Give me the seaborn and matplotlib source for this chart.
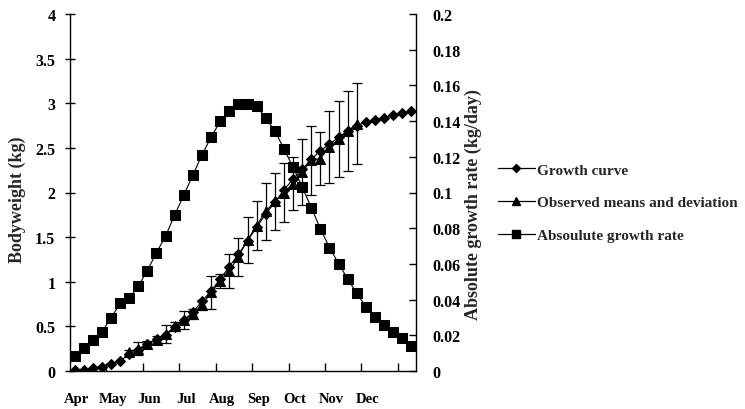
import numpy as np
import pandas as pd
import matplotlib
matplotlib.use("Agg")
import matplotlib.pyplot as plt
from matplotlib.lines import Line2D
from matplotlib.ticker import FixedLocator, FuncFormatter
import seaborn as sns

# ---------------- data ----------------
months = ["Apr", "May", "Jun", "Jul", "Aug", "Sep", "Oct", "Nov", "Dec"]
n_points = 38                      # sampling occasions along the category axis
sample_index = np.arange(n_points)

growth_curve = [0.01, 0.01, 0.03, 0.05, 0.08, 0.11, 0.19, 0.24, 0.30, 0.36,
                0.40, 0.49, 0.57, 0.66, 0.78, 0.90, 1.03, 1.17, 1.31, 1.46,
                1.61, 1.76, 1.89, 2.03, 2.15, 2.26, 2.37, 2.47, 2.54, 2.62,
                2.69, 2.75, 2.79, 2.81, 2.84, 2.87, 2.89, 2.91]

obs_index = np.arange(6, 32)
observed_means = [0.21, 0.25, 0.30, 0.35, 0.41, 0.50, 0.57, 0.64, 0.74, 0.88,
                  1.01, 1.12, 1.28, 1.47, 1.63, 1.79, 1.90, 2.00, 2.10, 2.23,
                  2.36, 2.38, 2.51, 2.60, 2.69, 2.77]
observed_sd = [0.03, 0.07, 0.04, 0.04, 0.10, 0.05, 0.10, 0.06, 0.06, 0.18,
               0.08, 0.19, 0.215, 0.26, 0.27, 0.32, 0.32, 0.33, 0.30, 0.375,
               0.39, 0.30, 0.40, 0.43, 0.445, 0.455]

growth_rate = [0.0086, 0.0127, 0.0174, 0.0220, 0.0295, 0.0380, 0.0407, 0.0476,
               0.0563, 0.0663, 0.0756, 0.0874, 0.0986, 0.1098, 0.1212, 0.1310,
               0.1399, 0.1458, 0.1496, 0.1496, 0.1483, 0.1417, 0.1346, 0.1244,
               0.1141, 0.1032, 0.0915, 0.0797, 0.0691, 0.0602, 0.0515, 0.0435,
               0.0360, 0.0301, 0.0259, 0.0217, 0.0183, 0.0142]

left_ticks = [0, 0.5, 1, 1.5, 2, 2.5, 3, 3.5, 4]
right_ticks = [0, 0.02, 0.04, 0.06, 0.08, 0.1, 0.12, 0.14, 0.16, 0.18, 0.2]

labels = ["Growth curve", "Observed means and deviation", "Absoulute growth rate"]

# ---------------- style ----------------
sns.set_theme(style="white")
plt.rcParams["font.family"] = ["Liberation Serif", "DejaVu Serif"]
plt.rcParams["font.weight"] = "bold"
plt.rcParams["axes.labelweight"] = "bold"

W, H = 745, 410
fig = plt.figure(figsize=(W / 100, H / 100), dpi=100)
ax = fig.add_axes([70 / W, 38 / H, 346 / W, 357 / H])
ax2 = ax.twinx()

df_growth = pd.DataFrame({"idx": sample_index, "weight": growth_curve})
df_obs = pd.DataFrame({"idx": obs_index, "weight": observed_means, "sd": observed_sd})
df_rate = pd.DataFrame({"idx": sample_index, "rate": growth_rate})

sns.lineplot(data=df_growth, x="idx", y="weight", ax=ax, color="black",
             marker="D", markersize=5, markeredgecolor="black",
             linewidth=0.8, legend=False, zorder=3)
ax.errorbar(df_obs["idx"], df_obs["weight"], yerr=df_obs["sd"], fmt="none",
            ecolor="black", elinewidth=0.9, capsize=3.5, capthick=0.9, zorder=2)
sns.lineplot(data=df_obs, x="idx", y="weight", ax=ax, color="black",
             marker="^", markersize=6.5, markeredgecolor="black",
             linewidth=0.8, legend=False, zorder=4)
sns.lineplot(data=df_rate, x="idx", y="rate", ax=ax2, color="black",
             marker="s", markersize=6.5, markeredgecolor="black",
             linewidth=0.8, legend=False, zorder=3)

# ---------------- axes ----------------
ax.set_xlim(-0.5, n_points - 0.5)
ax.set_ylim(0, 4)
ax2.set_ylim(0, 0.2)

fmt = FuncFormatter(lambda v, p: f"{v:g}")
ax.yaxis.set_major_locator(FixedLocator(left_ticks))
ax.yaxis.set_major_formatter(fmt)
ax2.yaxis.set_major_locator(FixedLocator(right_ticks))
ax2.yaxis.set_major_formatter(fmt)

# month labels (no tick marks) and group separators (minor ticks)
ax.xaxis.set_major_locator(FixedLocator([4 * k + 0.2 for k in range(len(months))]))
ax.set_xticklabels(months)
ax.xaxis.set_minor_locator(FixedLocator([4 * k + 3.5 for k in range(len(months))]))

ax.tick_params(axis="x", which="major", bottom=True, length=0, pad=15,
               labelsize=10.5, colors="black")
ax.tick_params(axis="x", which="minor", bottom=True, direction="in",
               length=6, width=1, color="black")
ax.tick_params(axis="y", left=True, direction="inout", length=7, width=1,
               pad=7, labelsize=11.5, colors="black")
ax2.tick_params(axis="y", right=True, direction="in", length=5, width=1,
                pad=12, labelsize=11.5, colors="black")
for lab in ax.get_xticklabels() + ax.get_yticklabels() + ax2.get_yticklabels():
    lab.set_fontweight("bold")

for a in (ax, ax2):
    a.spines["top"].set_visible(False)
    for s in a.spines.values():
        s.set_color("black")
        s.set_linewidth(1)
ax.spines["right"].set_visible(False)
ax2.spines["left"].set_visible(False)
ax2.spines["bottom"].set_visible(False)
ax.grid(False)
ax2.grid(False)

ax.set_xlabel("")
ax.set_ylabel("Bodyweight (kg)", fontsize=13, fontweight="bold")
ax2.set_ylabel("Absolute growth rate (kg/day)", fontsize=13, fontweight="bold")
ax.yaxis.set_label_coords(-0.128, 0.483)
ax2.yaxis.set_label_coords(1.142, 0.47)

handles = [
    Line2D([], [], color="black", lw=0.9, marker="D", markersize=4.5),
    Line2D([], [], color="black", lw=0.9, marker="^", markersize=5.5),
    Line2D([], [], color="black", lw=0.9, marker="s", markersize=5.5),
]
fig.legend(handles, labels, loc="upper left", bbox_to_anchor=(498 / W, 1 - 164 / H),
           frameon=False, handlelength=2.4, handletextpad=0.15,
           labelspacing=1.25, borderaxespad=0, borderpad=0,
           prop={"family": ["Liberation Serif"], "weight": "bold", "size": 11})

fig.savefig("out.png", dpi=100)
